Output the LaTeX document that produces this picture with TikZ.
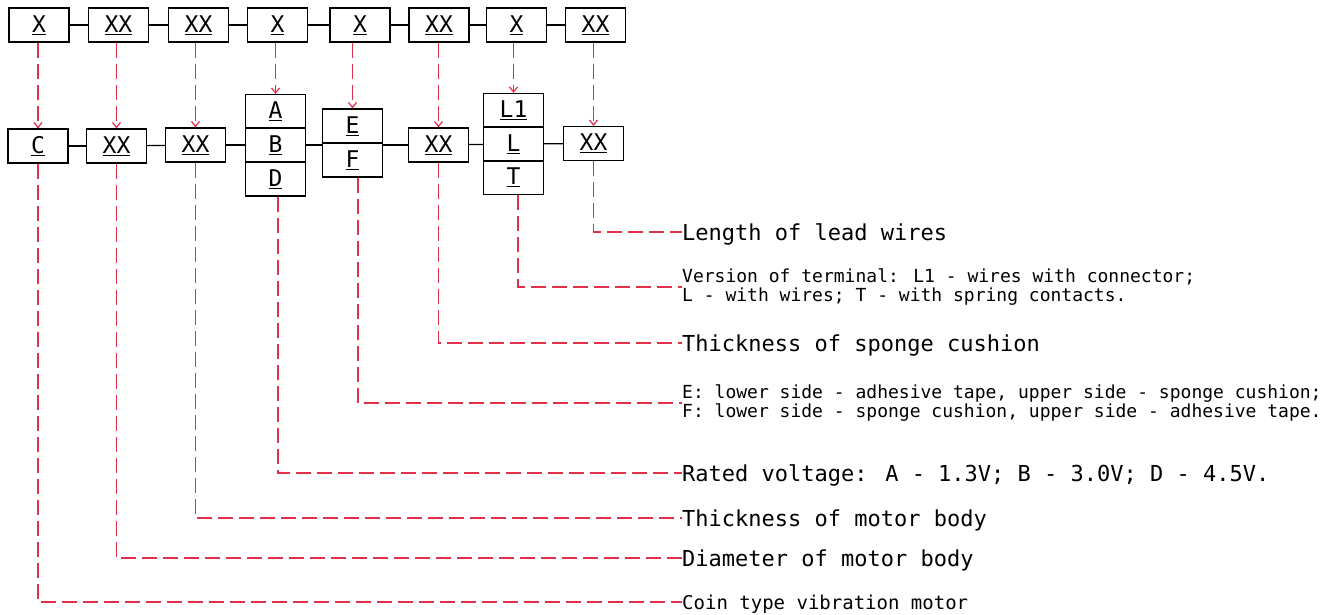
\documentclass[tikz,border=0pt]{standalone}
\usepackage{fontspec}
\setmainfont{DejaVu Sans Mono}
\usetikzlibrary{arrows.meta}
\definecolor{cadred}{RGB}{226,48,74}

\begin{document}
\begin{tikzpicture}[x=1pt, y=-1pt,
    box/.style={draw, line width=1.2pt, minimum width=60pt, minimum height=34pt,
        inner sep=0pt, font=\fontsize{23}{25}\selectfont},
    link/.style={line width=1.2pt},
    lead/.style={draw=cadred, line width=1.2pt, dash pattern=on 15pt off 6pt},
    tip/.style={-{Straight Barb[length=5pt,width=8pt]}},
    note/.style={anchor=west, inner sep=0pt, text height=16pt, text depth=0pt,
        font=\fontsize{22}{24}\selectfont},
    notesm/.style={anchor=west, inner sep=0pt, align=left,
        font=\fontsize{18}{19.5}\selectfont}]
    \useasboundingbox (0,0) rectangle (1328,614);

    % code row
    \foreach \i/\x/\label in {1/39/X, 2/118.5/XX, 3/198.5/XX, 4/277.5/X,
                              5/360/X, 6/439/XX, 7/516.5/X, 8/595.5/XX}
        \node[box] (t\i) at (\x,25) {\underline{\label}};
    \foreach \a/\b in {1/2, 2/3, 3/4, 4/5, 5/6, 6/7, 7/8}
        \draw[link] (t\a) -- (t\b);

    % decoded row
    \node[box] (c) at (38,146) {\underline{C}};
    \node[box] (dia) at (116.5,146) {\underline{XX}};
    \node[box] (th) at (195.5,145) {\underline{XX}};
    \node[box] (va) at (275.5,111.5) {\underline{A}};
    \node[box] (vb) at (275.5,145) {\underline{B}};
    \node[box] (vd) at (275.5,179) {\underline{D}};
    \node[box] (e) at (352.5,126) {\underline{E}};
    \node[box] (f) at (352.5,160) {\underline{F}};
    \node[box] (sp) at (438.5,145) {\underline{XX}};
    \node[box] (l1) at (513.5,110.5) {\underline{L1}};
    \node[box] (l) at (513.5,144) {\underline{L}};
    \node[box] (tt) at (513.5,177.5) {\underline{T}};
    \node[box] (len) at (593.5,143.5) {\underline{XX}};

    \draw[link] (c) -- (dia);
    \draw[link] (dia) -- (th);
    \draw[link] (th) -- (vb);
    \draw[link] (vb) -- (vb -| f.west);
    \draw[link] (f.east |- sp) -- (sp);
    \draw[link] (sp) -- (l);
    \draw[link] (l) -- (len);

    % arrows down
    \foreach \a/\b in {t1/c, t2/dia, t3/th, t4/va, t5/e, t6/sp, t7/l1, t8/len}
        \draw[lead, tip] (\a.south -| \b.north) -- (\b.north);

    % notes
    \node[note] (n1) at (682,232) {Length of lead wires};
    \node[notesm] (n2) at (682,287) {Version of terminal: L1 - wires with connector;\\
        L - with wires; T - with spring contacts.};
    \node[note] (n3) at (682,343) {Thickness of sponge cushion};
    \node[notesm] (n4) at (682,403) {E: lower side - adhesive tape, upper side - sponge cushion;\\
        F: lower side - sponge cushion, upper side - adhesive tape.};
    \node[note] (n5) at (682,473) {Rated voltage: A - 1.3V; B - 3.0V; D - 4.5V.};
    \node[note] (n6) at (682,518) {Thickness of motor body};
    \node[note] (n7) at (682,558) {Diameter of motor body};
    \node[notesm, font=\fontsize{19}{21}\selectfont, text height=14pt, text depth=0pt]
        (n8) at (682,602) {Coin type vibration motor};

    \foreach \b/\s/\n in {len/0/n1, tt/4.5/n2, sp/0/n3, f/5.5/n4,
                          vd/2.5/n5, th/0/n6, dia/0/n7, c/0/n8}
        \draw[lead] ([xshift=\s pt]\b.south) |- (\n.west);
\end{tikzpicture}
\end{document}
